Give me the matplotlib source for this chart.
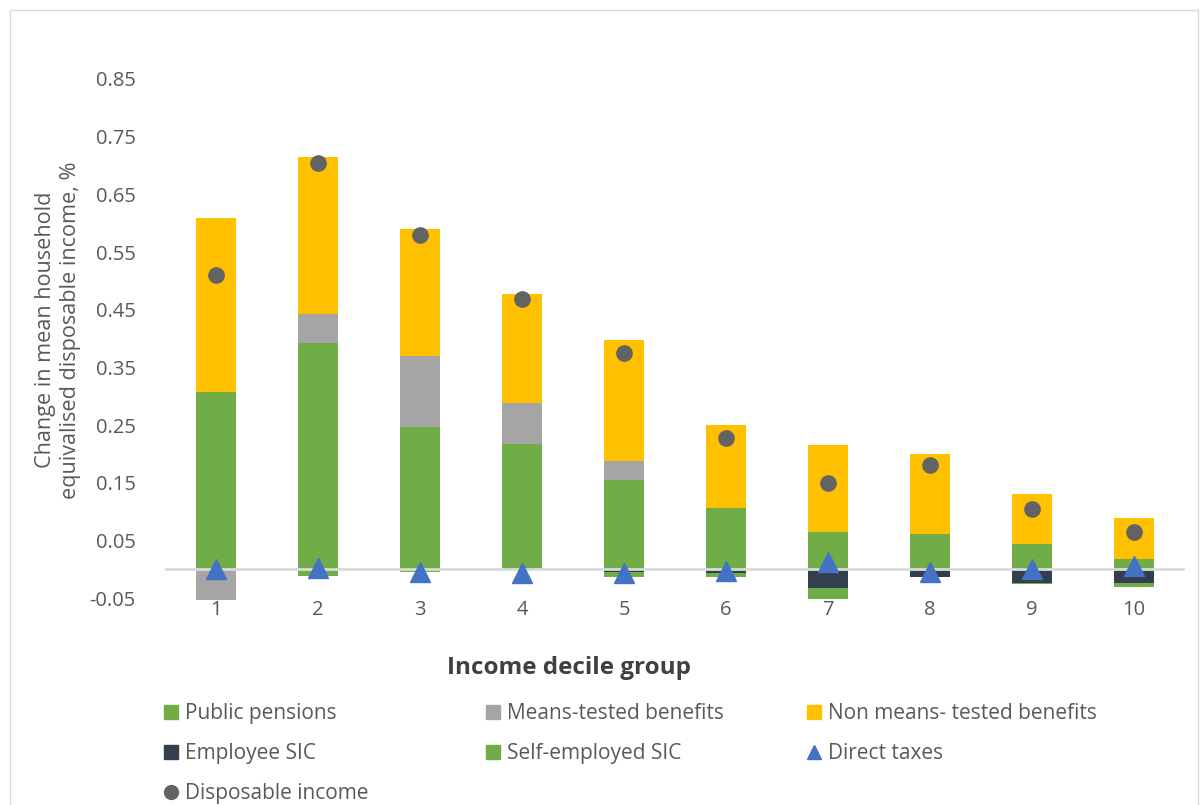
import matplotlib
matplotlib.use("Agg")
import matplotlib.pyplot as plt
from matplotlib.lines import Line2D
from matplotlib.patches import Rectangle
import numpy as np

plt.rcParams['font.family'] = ['Open Sans', 'DejaVu Sans']

deciles = ["1", "2", "3", "4", "5", "6", "7", "8", "9", "10"]
public_pensions = [0.307, 0.393, 0.247, 0.218, 0.155, 0.107, 0.065, 0.061, 0.044, 0.018]
means_tested = [-0.053, 0.050, 0.123, 0.071, 0.033, 0.0, 0.0, 0.0, 0.0, 0.0]
non_means_tested = [0.302, 0.272, 0.220, 0.188, 0.210, 0.144, 0.151, 0.139, 0.087, 0.071]
employee_sic = [0.0, 0.0, 0.0, 0.0, -0.004, -0.006, -0.033, -0.013, -0.023, -0.023]
self_employed_sic = [0.0, -0.011, -0.004, 0.0, -0.009, -0.008, -0.018, 0.0, -0.002, -0.007]
direct_taxes = [0.0, 0.003, -0.004, -0.006, -0.006, -0.003, 0.013, -0.004, 0.001, 0.006]
disposable_income = [0.510, 0.704, 0.580, 0.469, 0.375, 0.228, 0.150, 0.180, 0.105, 0.065]

C_GREEN = "#70AD47"
C_GRAY = "#A5A5A5"
C_YELLOW = "#FFC000"
C_DARK = "#323F4F"
C_BLUE = "#4472C4"
C_DOT = "#636363"
TXT = "#595959"

fig = plt.figure(figsize=(12, 8.05), dpi=100)
ax = fig.add_axes([165/1200, 1-601/805, 1020/1200, (601-79)/805])

x = np.arange(len(deciles))
w = 0.4
series = [(public_pensions, C_GREEN), (means_tested, C_GRAY), (non_means_tested, C_YELLOW),
          (employee_sic, C_DARK), (self_employed_sic, C_GREEN)]
pos_base = np.zeros(len(x))
neg_base = np.zeros(len(x))
for vals, col in series:
    v = np.array(vals, dtype=float)
    bottoms = np.where(v >= 0, pos_base, neg_base)
    ax.bar(x, v, w, bottom=bottoms, color=col, edgecolor='none', zorder=2)
    pos_base = pos_base + np.where(v >= 0, v, 0)
    neg_base = neg_base + np.where(v < 0, v, 0)

ax.axhline(0, color="#D9D9D9", lw=2, zorder=3)
ax.plot(x, direct_taxes, linestyle='none', marker='^', markersize=14, color=C_BLUE, zorder=5)
ax.plot(x, disposable_income, linestyle='none', marker='o', markersize=11, color=C_DOT, zorder=5)

ticks = np.round(np.arange(-0.05, 0.851, 0.1), 2)
ax.set_xlim(-0.5, len(x) - 0.5)
ax.set_ylim(-0.055, 0.85)
ax.set_yticks(ticks)
ax.set_yticklabels([f"{t:.2f}" for t in ticks])
ax.set_xticks(x)
ax.set_xticklabels(deciles)
ax.tick_params(axis='both', length=0, labelsize=14.5, labelcolor=TXT)
ax.tick_params(axis='x', pad=-1)
ax.tick_params(axis='y', pad=21)
for s in ax.spines.values():
    s.set_visible(False)

fig.text(58/1200, 1-330/805, "Change in mean household\nequivalised disposable income, %",
         rotation=90, ha='center', va='center', fontsize=15.6, color=TXT, linespacing=1.2)
fig.text(569/1200, 1-668/805, "Income decile group", ha='center', va='center',
         fontsize=17.5, fontweight='bold', color="#404040")

def sq(c):
    return Line2D([], [], linestyle='none', marker='s', markersize=10, color=c)

cols = [
    ([sq(C_GREEN), sq(C_DARK), Line2D([], [], linestyle='none', marker='o', markersize=10, color=C_DOT)],
     ["Public pensions", "Employee SIC", "Disposable income"], 163),
    ([sq(C_GRAY), sq(C_GREEN)], ["Means-tested benefits", "Self-employed SIC"], 485),
    ([sq(C_YELLOW), Line2D([], [], linestyle='none', marker='^', markersize=10, color=C_BLUE)],
     ["Non means- tested benefits", "Direct taxes"], 806),
]
for handles, labels, xp in cols:
    fig.legend(handles, labels, loc='upper left', bbox_to_anchor=(xp/1200, 1-703/805),
               frameon=False, fontsize=15, labelcolor=TXT, handlelength=0.75,
               handletextpad=0.3, labelspacing=0.92, borderpad=0, borderaxespad=0)

fig.patches.append(Rectangle((10/1200, -0.01), 1188/1200, 1-10/805+0.01, transform=fig.transFigure,
                             fill=False, edgecolor="#D9D9D9", lw=1))

fig.savefig("out.png", dpi=100)
